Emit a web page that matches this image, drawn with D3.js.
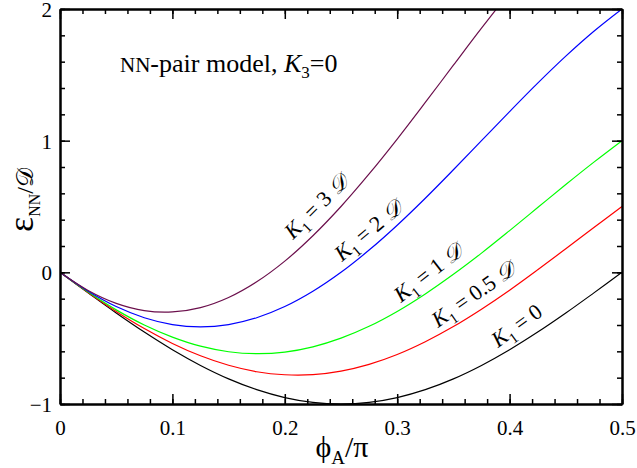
<!DOCTYPE html>
<html><head><meta charset="utf-8">
<script src="https://cdn.jsdelivr.net/npm/d3@7"></script>
<style>body{margin:0;background:#fff}</style>
</head><body>
<svg id="c" width="637" height="468"></svg>
<script>
const xs = [0,0.025,0.05,0.075,0.1,0.125,0.15,0.175,0.2,0.225,0.25,0.275,0.3,0.325,0.35,0.375,0.4,0.425,0.45,0.475,0.5];
const k0   = [0,-0.156,-0.309,-0.454,-0.588,-0.707,-0.809,-0.891,-0.951,-0.988,-1,-0.988,-0.951,-0.891,-0.809,-0.707,-0.588,-0.454,-0.309,-0.156,0];
const k05  = [0,-0.153,-0.297,-0.427,-0.540,-0.634,-0.706,-0.755,-0.778,-0.777,-0.750,-0.699,-0.624,-0.527,-0.412,-0.280,-0.136,0.019,0.179,0.341,0.5];
const k1   = [0,-0.150,-0.285,-0.400,-0.492,-0.561,-0.603,-0.618,-0.606,-0.566,-0.5,-0.410,-0.297,-0.164,-0.015,0.146,0.317,0.492,0.667,0.837,1];
const k2   = [0,-0.144,-0.260,-0.345,-0.397,-0.414,-0.397,-0.345,-0.260,-0.144,0,0.169,0.358,0.563,0.779,1.0,1.221,1.437,1.642,1.831,2];
const k3   = [0,-0.138,-0.236,-0.291,-0.301,-0.268,-0.191,-0.072,0.085,0.278,0.5,0.747,1.012,1.290,1.573,1.854,2.126,2.383,2.618,2.825,3];
const seriesNames = ["K1=0","K1=0.5","K1=1","K1=2","K1=3"];
const seriesColors = ["#000000","#ff0000","#00ff00","#0000ff","#6b0f4c"];
const xTicks = [0,0.1,0.2,0.3,0.4,0.5];
const yTicks = [-1,0,1,2];

const svg = d3.select("#c");
const L=60, R=622, T=9, B=404;
const x = d3.scaleLinear().domain([0,0.5]).range([L,R]);
const y = d3.scaleLinear().domain([-1,2]).range([B,T]);
const font = "'Liberation Serif', 'Times New Roman', serif";

svg.append("defs").append("clipPath").attr("id","clip")
  .append("rect").attr("x",L).attr("y",T).attr("width",R-L).attr("height",B-T);

const line = d3.line().x(d=>x(d[0])).y(d=>y(d[1])).curve(d3.curveCatmullRom);
const all = [k0,k05,k1,k2,k3];
all.forEach((s,i)=>{
  svg.append("path").attr("clip-path","url(#clip)")
    .datum(xs.map((v,j)=>[v,s[j]]))
    .attr("d",line).attr("fill","none").attr("stroke",seriesColors[i]).attr("stroke-width",1.2);
});

// axes
const minorX = d3.range(0,0.5001,0.02), minorY = d3.range(-1,2.0001,0.2);
function ax(gen, scale, tr, major, minor, fmt){
  const g1 = svg.append("g").attr("transform",tr)
    .call(gen(scale).tickValues(minor).tickSizeInner(-5).tickSizeOuter(0).tickFormat(""));
  const g2 = svg.append("g").attr("transform",tr)
    .call(gen(scale).tickValues(major).tickSizeInner(-10).tickSizeOuter(0).tickFormat(fmt));
  [g1,g2].forEach(g=>{g.selectAll("line,path").attr("stroke","#000").attr("stroke-width",1.5);
    g.select(".domain").attr("stroke-width",2);});
  return g2;
}
const gb = ax(d3.axisBottom, x, `translate(0,${B})`, xTicks, minorX, d=>d===0?"0":d3.format(".1f")(d));
gb.selectAll("text").attr("font-family",font).attr("font-size",21).attr("fill","#000").attr("dy","0.71em").attr("y",16);
ax(d3.axisTop, x, `translate(0,${T})`, xTicks, minorX, "");
const gl = ax(d3.axisLeft, y, `translate(${L},0)`, yTicks, minorY, d3.format("d"));
gl.selectAll("text").attr("font-family",font).attr("font-size",21).attr("fill","#000").attr("x",-8).attr("dy","0.35em");
ax(d3.axisRight, y, `translate(${R},0)`, yTicks, minorY, "");
svg.selectAll("g text").filter(function(){return this.textContent==="";}).remove();

// axis titles
const xt = svg.append("text").attr("x",342).attr("y",457).attr("text-anchor","middle")
  .attr("font-family",font).attr("font-size",30);
xt.append("tspan").text("ϕ");
xt.append("tspan").attr("font-size",19).attr("dy",7).text("A");
xt.append("tspan").attr("dy",-7).text("/π");

const yt = svg.append("text").attr("transform","translate(33,200) rotate(-90)").attr("text-anchor","middle")
  .attr("font-family",font).attr("font-size",36);
yt.append("tspan").text("ε");
yt.append("tspan").attr("font-size",16).attr("dy",7).text("NN");
yt.append("tspan").attr("font-size",24).attr("dy",-7).text("/𝒟");

// annotation
const an = svg.append("text").attr("x",120).attr("y",72).attr("font-family",font).attr("font-size",26);
an.append("tspan").attr("font-size",21).text("NN");
an.append("tspan").text("-pair model, ");
an.append("tspan").attr("font-style","italic").text("K");
an.append("tspan").attr("font-size",17).attr("dy",6).text("3");
an.append("tspan").attr("dy",-6).text("=0");

// curve labels
const labels = [
  {x:293,y:240,r:-45,v:"3",d:true},
  {x:342,y:262,r:-40,v:"2",d:true},
  {x:401,y:303,r:-38,v:"1",d:true},
  {x:438,y:328,r:-35,v:"0.5",d:true},
  {x:498,y:348,r:-36,v:"0",d:false}
];
labels.forEach(l=>{
  const t = svg.append("text").attr("transform",`translate(${l.x},${l.y}) rotate(${l.r})`)
    .attr("font-family",font).attr("font-size",22);
  t.append("tspan").attr("font-style","italic").text("K");
  t.append("tspan").attr("font-size",15).attr("dy",6).text("1");
  t.append("tspan").attr("dy",-6).text(" = "+l.v+(l.d?" ":""));
  if(l.d) t.append("tspan").attr("font-style","italic").text("𝒟");
});
</script>
</body></html>
